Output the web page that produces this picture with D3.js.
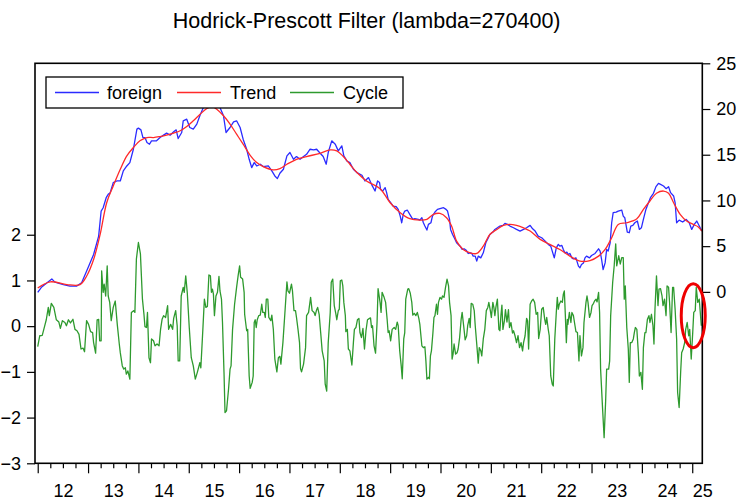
<!DOCTYPE html>
<html><head><meta charset="utf-8">
<script src="https://cdn.jsdelivr.net/npm/d3@7"></script>
<style>
body{margin:0;background:#fff}
svg{display:block}
text{font-family:"Liberation Sans",Arial,Helvetica,sans-serif;fill:#000}
</style>
</head><body>
<svg id="chart" width="739" height="502"></svg>
<script>
const titleText = "Hodrick-Prescott Filter (lambda=270400)";
const seriesNames = ["foreign", "Trend", "Cycle"];
const yearTicks = [2012,2013,2014,2015,2016,2017,2018,2019,2020,2021,2022,2023,2024,2025];
const yearLabels = ["12","13","14","15","16","17","18","19","20","21","22","23","24","25"];
const leftTicks = [-3,-2,-1,0,1,2];
const rightTicks = [0,5,10,15,20,25];

// [decimal year, value] — foreign (right axis)
const foreign = [[2012.00,-0.05],[2012.08,0.54],[2012.18,0.98],[2012.28,1.42],[2012.34,1.06],[2012.51,0.80],[2012.64,0.62],[2012.77,0.62],[2012.87,0.98],[2012.97,2.26],[2013.11,4.09],[2013.21,6.10],[2013.26,8.84],[2013.30,9.20],[2013.36,10.30],[2013.40,10.67],[2013.44,10.85],[2013.50,11.95],[2013.57,12.13],[2013.64,12.13],[2013.70,13.23],[2013.77,13.77],[2013.83,14.14],[2013.90,15.60],[2013.97,17.80],[2014.00,17.91],[2014.05,17.72],[2014.09,16.88],[2014.13,16.88],[2014.17,16.33],[2014.22,16.15],[2014.26,16.52],[2014.36,16.52],[2014.43,16.88],[2014.50,17.14],[2014.56,17.36],[2014.63,17.14],[2014.70,17.51],[2014.75,17.72],[2014.79,16.77],[2014.86,17.43],[2014.89,18.71],[2014.96,18.89],[2015.02,17.98],[2015.09,17.80],[2015.16,18.35],[2015.22,19.26],[2015.29,20.17],[2015.36,20.90],[2015.46,21.00],[2015.55,20.50],[2015.62,20.17],[2015.69,19.26],[2015.74,17.43],[2015.82,17.98],[2015.89,18.60],[2015.95,18.71],[2016.02,17.98],[2016.08,16.70],[2016.15,15.60],[2016.20,14.50],[2016.25,13.59],[2016.30,14.14],[2016.35,13.77],[2016.42,13.96],[2016.48,13.70],[2016.58,13.77],[2016.65,13.23],[2016.71,12.68],[2016.76,12.39],[2016.81,12.97],[2016.88,13.41],[2016.95,14.87],[2017.01,15.24],[2017.08,14.50],[2017.14,14.80],[2017.21,14.50],[2017.28,14.80],[2017.34,15.05],[2017.41,15.60],[2017.48,15.53],[2017.54,15.60],[2017.61,15.16],[2017.67,14.80],[2017.73,13.96],[2017.77,15.24],[2017.84,16.52],[2017.91,16.15],[2017.97,15.42],[2018.04,15.97],[2018.08,14.87],[2018.14,14.32],[2018.20,14.14],[2018.27,13.41],[2018.34,13.05],[2018.44,12.75],[2018.50,12.13],[2018.57,12.50],[2018.63,11.76],[2018.70,11.03],[2018.75,12.13],[2018.79,11.95],[2018.81,11.21],[2018.85,11.03],[2018.90,11.40],[2018.93,10.85],[2018.96,10.12],[2019.01,9.75],[2019.06,9.39],[2019.12,9.32],[2019.16,9.02],[2019.20,8.29],[2019.23,7.56],[2019.26,8.48],[2019.29,8.84],[2019.34,8.95],[2019.39,8.48],[2019.45,7.93],[2019.49,8.00],[2019.56,7.93],[2019.59,7.85],[2019.63,8.11],[2019.66,7.56],[2019.69,7.20],[2019.73,6.76],[2019.76,7.38],[2019.81,7.56],[2019.84,8.29],[2019.89,8.73],[2019.94,9.02],[2019.99,9.10],[2020.06,9.21],[2020.11,9.02],[2020.14,8.84],[2020.18,7.93],[2020.20,6.83],[2020.24,6.28],[2020.29,5.73],[2020.32,5.37],[2020.39,5.00],[2020.43,4.64],[2020.47,4.71],[2020.51,4.56],[2020.55,4.20],[2020.59,4.27],[2020.62,4.20],[2020.65,3.91],[2020.69,3.91],[2020.72,3.36],[2020.75,3.91],[2020.80,3.72],[2020.85,4.27],[2020.90,5.37],[2020.95,5.92],[2020.98,6.28],[2021.04,6.54],[2021.08,6.83],[2021.13,7.01],[2021.18,7.20],[2021.24,7.27],[2021.28,7.49],[2021.33,7.38],[2021.38,7.20],[2021.45,7.01],[2021.51,6.83],[2021.58,6.65],[2021.65,6.83],[2021.71,7.01],[2021.78,7.27],[2021.83,6.90],[2021.88,6.65],[2021.94,6.10],[2022.01,5.92],[2022.08,5.55],[2022.14,5.19],[2022.19,5.00],[2022.23,4.27],[2022.26,3.72],[2022.30,4.82],[2022.34,5.19],[2022.37,5.00],[2022.41,5.08],[2022.44,4.64],[2022.47,4.27],[2022.51,4.35],[2022.54,4.09],[2022.57,4.20],[2022.61,3.72],[2022.64,3.61],[2022.69,3.72],[2022.74,2.81],[2022.77,2.63],[2022.80,2.99],[2022.84,3.17],[2022.87,3.72],[2022.90,3.91],[2022.96,3.72],[2023.00,3.98],[2023.07,4.20],[2023.14,4.71],[2023.17,4.46],[2023.20,3.54],[2023.23,2.44],[2023.27,3.17],[2023.30,4.64],[2023.33,4.46],[2023.37,5.37],[2023.40,7.56],[2023.43,8.66],[2023.49,8.73],[2023.53,8.84],[2023.60,8.95],[2023.63,8.29],[2023.66,8.11],[2023.71,6.54],[2023.75,6.47],[2023.78,7.20],[2023.82,7.27],[2023.86,7.56],[2023.91,7.75],[2023.95,6.83],[2023.99,7.01],[2024.03,7.93],[2024.08,9.02],[2024.13,9.75],[2024.17,10.30],[2024.23,10.78],[2024.28,11.51],[2024.33,11.87],[2024.37,11.76],[2024.43,11.58],[2024.48,11.29],[2024.53,11.51],[2024.57,10.85],[2024.63,10.49],[2024.66,9.75],[2024.69,7.56],[2024.74,7.85],[2024.81,7.64],[2024.88,7.93],[2024.94,7.56],[2024.99,6.83],[2025.04,7.38],[2025.09,7.75],[2025.14,7.20],[2025.19,6.65]];

// [decimal year, value] — HP trend (right axis)
const trend = [[2012.00,0.43],[2012.25,1.10],[2012.58,0.80],[2012.84,0.80],[2012.97,1.71],[2013.11,3.54],[2013.24,6.28],[2013.37,9.75],[2013.50,11.58],[2013.64,13.41],[2013.77,14.87],[2013.90,15.79],[2014.03,16.52],[2014.17,16.88],[2014.30,16.88],[2014.43,16.99],[2014.56,17.14],[2014.70,17.36],[2014.83,17.62],[2014.96,18.09],[2015.09,18.71],[2015.23,19.45],[2015.36,20.06],[2015.46,20.30],[2015.55,19.99],[2015.69,19.26],[2015.82,18.35],[2015.95,17.25],[2016.08,16.15],[2016.22,14.94],[2016.35,14.14],[2016.48,13.70],[2016.68,13.34],[2016.81,13.48],[2016.95,13.96],[2017.14,14.50],[2017.34,14.80],[2017.61,15.16],[2017.81,15.53],[2017.94,15.42],[2018.07,14.80],[2018.20,13.96],[2018.34,13.05],[2018.53,12.13],[2018.80,11.29],[2019.00,9.75],[2019.20,8.66],[2019.39,8.00],[2019.59,7.85],[2019.73,7.93],[2019.86,8.48],[2019.99,8.58],[2020.12,8.11],[2020.22,7.20],[2020.32,5.55],[2020.45,4.64],[2020.59,4.27],[2020.72,4.20],[2020.85,5.00],[2020.98,6.28],[2021.12,6.83],[2021.25,7.27],[2021.38,7.38],[2021.51,7.27],[2021.65,7.01],[2021.78,6.65],[2021.98,5.74],[2022.17,5.20],[2022.37,4.64],[2022.57,3.91],[2022.77,3.36],[2022.97,3.43],[2023.14,3.91],[2023.27,4.64],[2023.40,5.92],[2023.53,7.38],[2023.70,7.56],[2023.90,8.00],[2024.03,9.02],[2024.16,9.94],[2024.29,10.78],[2024.43,11.03],[2024.53,10.78],[2024.63,9.75],[2024.76,8.48],[2024.89,7.75],[2025.02,7.38],[2025.12,7.10],[2025.19,6.65]];

// [decimal year, value] — cycle (left axis)
const cycle = [[2012.00,-0.45],[2012.04,-0.21],[2012.09,-0.20],[2012.14,0.01],[2012.17,0.14],[2012.21,0.41],[2012.23,0.23],[2012.27,0.50],[2012.32,0.41],[2012.37,0.14],[2012.42,0.09],[2012.45,-0.05],[2012.49,0.12],[2012.54,0.08],[2012.57,0.01],[2012.61,0.14],[2012.65,0.07],[2012.70,0.15],[2012.74,-0.07],[2012.78,-0.10],[2012.82,-0.18],[2012.86,-0.50],[2012.90,-0.48],[2012.93,-0.56],[2012.97,0.12],[2013.01,0.04],[2013.05,-0.12],[2013.09,-0.14],[2013.11,-0.36],[2013.15,-0.59],[2013.18,0.14],[2013.21,0.15],[2013.23,-0.32],[2013.26,-0.32],[2013.27,1.21],[2013.30,0.74],[2013.32,0.92],[2013.35,0.66],[2013.38,1.32],[2013.40,0.66],[2013.43,0.52],[2013.46,0.12],[2013.50,0.41],[2013.54,0.55],[2013.58,0.04],[2013.62,-0.39],[2013.64,-0.58],[2013.68,-0.87],[2013.71,-0.94],[2013.74,-0.91],[2013.76,-1.05],[2013.79,-0.98],[2013.83,-1.16],[2013.86,0.30],[2013.91,0.34],[2013.93,0.30],[2013.96,1.47],[2014.00,1.83],[2014.04,1.58],[2014.08,0.59],[2014.11,0.26],[2014.13,-0.01],[2014.16,-0.03],[2014.18,0.30],[2014.21,-0.69],[2014.24,-0.80],[2014.26,-0.28],[2014.30,-0.32],[2014.33,-0.43],[2014.37,-0.39],[2014.41,-0.43],[2014.44,-0.07],[2014.47,0.15],[2014.50,0.23],[2014.54,0.19],[2014.58,0.45],[2014.60,-0.07],[2014.64,0.04],[2014.68,-0.07],[2014.70,0.17],[2014.74,0.34],[2014.77,0.01],[2014.79,-0.76],[2014.82,-0.76],[2014.85,0.66],[2014.89,0.85],[2014.91,0.74],[2014.94,1.10],[2014.97,0.74],[2015.01,-0.03],[2015.05,-0.69],[2015.09,-0.87],[2015.13,-1.16],[2015.17,-1.01],[2015.22,-0.80],[2015.24,-0.91],[2015.28,-0.07],[2015.31,0.59],[2015.34,0.41],[2015.37,0.43],[2015.40,1.12],[2015.43,1.10],[2015.45,0.74],[2015.47,0.81],[2015.49,0.70],[2015.51,0.23],[2015.54,0.66],[2015.57,0.74],[2015.60,1.09],[2015.62,0.77],[2015.65,0.59],[2015.67,0.08],[2015.70,-1.01],[2015.72,-1.89],[2015.75,-1.85],[2015.79,-1.38],[2015.82,-0.94],[2015.84,-0.87],[2015.87,-0.07],[2015.91,0.48],[2015.95,0.85],[2015.98,1.10],[2016.01,1.32],[2016.03,1.07],[2016.07,1.03],[2016.10,0.74],[2016.11,0.26],[2016.15,-0.10],[2016.17,-0.07],[2016.20,-1.09],[2016.22,-1.36],[2016.26,-1.23],[2016.28,-1.09],[2016.30,0.08],[2016.32,0.14],[2016.34,-0.03],[2016.36,0.14],[2016.39,0.23],[2016.42,0.24],[2016.45,0.48],[2016.47,0.30],[2016.50,0.30],[2016.52,0.19],[2016.54,0.59],[2016.57,0.59],[2016.59,0.19],[2016.63,0.12],[2016.65,0.24],[2016.68,-0.07],[2016.71,-0.72],[2016.75,-1.00],[2016.78,-0.69],[2016.81,-0.66],[2016.83,-0.83],[2016.87,-0.36],[2016.91,0.30],[2016.95,0.97],[2016.97,0.77],[2017.00,0.72],[2017.04,0.92],[2017.06,0.77],[2017.09,0.34],[2017.12,0.34],[2017.14,0.19],[2017.17,-0.07],[2017.20,-0.36],[2017.22,-0.93],[2017.24,-1.00],[2017.28,-0.83],[2017.32,-0.47],[2017.34,0.23],[2017.38,0.30],[2017.42,0.63],[2017.45,0.34],[2017.49,0.30],[2017.51,0.23],[2017.54,0.36],[2017.56,0.41],[2017.59,0.26],[2017.62,-0.14],[2017.65,-0.54],[2017.69,-0.76],[2017.71,-1.27],[2017.74,-1.42],[2017.77,-0.36],[2017.81,0.30],[2017.83,0.96],[2017.86,1.03],[2017.89,0.45],[2017.92,0.28],[2017.94,0.14],[2017.97,0.34],[2017.99,0.37],[2018.01,0.99],[2018.04,1.01],[2018.06,0.88],[2018.08,0.52],[2018.11,0.23],[2018.12,-0.12],[2018.15,-0.07],[2018.17,-0.50],[2018.20,-0.54],[2018.24,-0.85],[2018.27,-0.36],[2018.29,-0.07],[2018.32,-0.03],[2018.35,0.14],[2018.38,0.17],[2018.40,-0.14],[2018.43,-0.25],[2018.46,-0.05],[2018.49,-0.50],[2018.52,-0.10],[2018.55,0.14],[2018.59,0.17],[2018.61,0.18],[2018.63,-0.03],[2018.65,0.01],[2018.68,-0.43],[2018.71,-0.59],[2018.74,0.08],[2018.76,0.82],[2018.80,0.52],[2018.82,0.30],[2018.84,0.74],[2018.88,0.63],[2018.91,0.52],[2018.94,0.15],[2018.96,-0.14],[2018.98,-0.10],[2019.01,-0.32],[2019.04,-0.07],[2019.08,-0.03],[2019.11,-0.07],[2019.14,0.09],[2019.16,0.01],[2019.19,-0.54],[2019.22,-0.87],[2019.24,-1.15],[2019.27,-0.28],[2019.29,-0.14],[2019.31,0.59],[2019.35,0.81],[2019.37,0.82],[2019.40,0.72],[2019.43,0.52],[2019.45,0.24],[2019.48,0.28],[2019.51,0.23],[2019.54,0.30],[2019.57,0.17],[2019.59,0.04],[2019.63,-0.43],[2019.66,-0.47],[2019.69,-0.45],[2019.71,-0.76],[2019.73,-1.16],[2019.76,-1.12],[2019.78,-1.15],[2019.80,-0.65],[2019.82,-0.54],[2019.85,-0.14],[2019.87,0.19],[2019.89,0.23],[2019.92,0.48],[2019.94,0.26],[2019.96,0.52],[2019.99,0.63],[2020.02,0.59],[2020.04,0.66],[2020.07,0.63],[2020.10,0.85],[2020.13,1.03],[2020.16,0.88],[2020.18,0.52],[2020.21,0.23],[2020.23,-0.72],[2020.25,-0.61],[2020.27,-0.39],[2020.30,-0.61],[2020.33,-0.58],[2020.35,-0.50],[2020.38,-0.25],[2020.41,0.15],[2020.43,0.30],[2020.46,0.01],[2020.49,-0.30],[2020.52,-0.21],[2020.54,0.01],[2020.57,0.17],[2020.59,-0.03],[2020.61,0.50],[2020.64,0.48],[2020.67,0.34],[2020.69,0.01],[2020.72,-0.39],[2020.75,-0.81],[2020.77,-0.47],[2020.80,-0.54],[2020.82,-0.65],[2020.85,-0.28],[2020.88,-0.07],[2020.91,0.34],[2020.94,0.41],[2020.96,0.52],[2020.99,0.34],[2021.01,0.19],[2021.04,0.52],[2021.06,0.41],[2021.08,0.23],[2021.10,0.41],[2021.13,0.59],[2021.16,-0.07],[2021.18,-0.10],[2021.20,0.23],[2021.22,0.46],[2021.24,-0.07],[2021.27,0.12],[2021.29,0.36],[2021.32,0.09],[2021.35,0.36],[2021.37,-0.03],[2021.40,0.08],[2021.43,-0.15],[2021.45,-0.10],[2021.48,-0.21],[2021.51,-0.36],[2021.54,-0.21],[2021.57,-0.47],[2021.60,-0.36],[2021.63,-0.54],[2021.65,-0.36],[2021.68,-0.21],[2021.71,0.17],[2021.73,0.12],[2021.75,-0.50],[2021.78,0.48],[2021.81,0.55],[2021.84,0.59],[2021.87,0.52],[2021.90,0.26],[2021.93,0.30],[2021.95,-0.27],[2021.98,-0.07],[2022.01,0.37],[2022.04,0.41],[2022.07,0.15],[2022.09,0.04],[2022.11,0.19],[2022.14,-0.07],[2022.16,-0.21],[2022.19,-1.09],[2022.22,-1.27],[2022.24,-1.31],[2022.27,-0.28],[2022.30,0.30],[2022.32,0.63],[2022.34,0.37],[2022.36,0.48],[2022.39,0.55],[2022.42,0.52],[2022.44,0.70],[2022.46,0.77],[2022.48,0.23],[2022.50,-0.36],[2022.52,0.15],[2022.53,0.04],[2022.56,0.30],[2022.59,0.08],[2022.61,0.30],[2022.64,0.23],[2022.67,0.02],[2022.69,-0.12],[2022.72,-0.14],[2022.75,-0.76],[2022.77,-0.21],[2022.80,-0.65],[2022.83,-0.47],[2022.85,0.08],[2022.89,0.52],[2022.91,0.66],[2022.93,0.52],[2022.96,0.19],[2022.99,0.30],[2023.01,0.45],[2023.04,0.50],[2023.06,0.55],[2023.09,0.59],[2023.11,0.53],[2023.14,0.74],[2023.16,0.30],[2023.18,-0.94],[2023.22,-1.82],[2023.25,-2.44],[2023.28,-1.64],[2023.30,-0.94],[2023.34,-0.94],[2023.36,-0.76],[2023.38,0.23],[2023.42,0.96],[2023.45,1.32],[2023.48,1.80],[2023.50,1.32],[2023.52,1.43],[2023.54,1.54],[2023.57,1.36],[2023.60,1.50],[2023.63,1.50],[2023.65,0.59],[2023.67,0.88],[2023.70,-0.03],[2023.73,-0.50],[2023.75,-1.23],[2023.77,-0.36],[2023.80,-0.36],[2023.83,-0.28],[2023.85,-0.14],[2023.87,-0.03],[2023.90,-0.07],[2023.93,-0.58],[2023.95,-1.09],[2023.98,-1.01],[2024.01,-1.38],[2024.03,-0.47],[2024.06,-0.14],[2024.08,-0.14],[2024.11,0.15],[2024.14,0.23],[2024.16,0.08],[2024.19,0.26],[2024.22,0.01],[2024.24,-0.39],[2024.26,0.37],[2024.29,1.10],[2024.32,0.45],[2024.34,0.81],[2024.37,0.82],[2024.40,0.66],[2024.42,0.45],[2024.45,0.59],[2024.48,0.23],[2024.50,0.88],[2024.53,0.85],[2024.55,0.52],[2024.58,-0.14],[2024.61,0.85],[2024.63,0.85],[2024.66,0.37],[2024.69,-0.28],[2024.71,-1.45],[2024.74,-1.78],[2024.77,-1.01],[2024.79,-0.58],[2024.82,-0.50],[2024.85,-0.36],[2024.87,-0.07],[2024.90,0.08],[2024.93,-0.21],[2024.95,-0.07],[2024.98,-0.72],[2025.01,-0.14],[2025.03,0.30],[2025.06,0.34],[2025.08,0.85],[2025.11,0.52],[2025.14,0.59],[2025.16,0.30],[2025.18,0.01]];

// annotation ellipse location (data units)
const markYear = 2025.02, markCycle = 0.23;

const colors = {foreign: "#2b2bff", Trend: "#ff2a2a", Cycle: "#2e9a2e"};
const L = 35, R = 702.3, T = 63.3, B = 463.3;
const xDomain = [2011.946, 2025.2];

const svg = d3.select("#chart");
const x = d3.scaleLinear().domain(xDomain).range([L, R]);
const yL = d3.scaleLinear().domain([-3, 5.75]).range([B, T]);
const yR = d3.scaleLinear().domain([-18.75, 25]).range([B, T]);

svg.append("defs").append("clipPath").attr("id", "clip")
  .append("rect").attr("x", L).attr("y", T).attr("width", R - L).attr("height", B - T);

// title
svg.append("text").attr("x", (L + R) / 2 - 2).attr("y", 28).attr("text-anchor", "middle")
  .style("font-size", "21.5px").text(titleText);

const plot = svg.append("g").attr("clip-path", "url(#clip)");
const lineL = d3.line().x(d => x(d[0])).y(d => yL(d[1]));
const lineR = d3.line().x(d => x(d[0])).y(d => yR(d[1]));
const lineT = d3.line().x(d => x(d[0])).y(d => yR(d[1])).curve(d3.curveCatmullRom.alpha(0.5));

plot.append("path").datum(cycle).attr("d", lineL).attr("fill", "none")
  .attr("stroke", colors.Cycle).attr("stroke-width", 1.3).attr("stroke-linejoin", "round");
plot.append("path").datum(foreign).attr("d", lineR).attr("fill", "none")
  .attr("stroke", colors.foreign).attr("stroke-width", 1.3).attr("stroke-linejoin", "round");
plot.append("path").datum(trend).attr("d", lineT).attr("fill", "none")
  .attr("stroke", colors.Trend).attr("stroke-width", 1.3);

// axes
const fs = "18px";
const axL = svg.append("g").attr("transform", `translate(${L},0)`)
  .call(d3.axisLeft(yL).tickValues(leftTicks).tickSize(8).tickPadding(6).tickFormat(d3.format("d")));
const axR = svg.append("g").attr("transform", `translate(${R},0)`)
  .call(d3.axisRight(yR).tickValues(rightTicks).tickSize(8).tickPadding(6).tickFormat(d3.format("d")));
const minorTicks = [];
yearTicks.forEach(yr => { [0.25, 0.5, 0.75].forEach(q => { if (yr + q < xDomain[1]) minorTicks.push(yr + q); }); });
const axBminor = svg.append("g").attr("transform", `translate(0,${B})`)
  .call(d3.axisBottom(x).tickValues(minorTicks).tickSize(5).tickFormat(""));
const axBmajor = svg.append("g").attr("transform", `translate(0,${B})`)
  .call(d3.axisBottom(x).tickValues(yearTicks).tickSize(10).tickFormat(""));
const labelPos = yearTicks.map(yr => Math.min(yr + 0.5, xDomain[1]));
const axBlab = svg.append("g").attr("transform", `translate(0,${B})`)
  .call(d3.axisBottom(x).tickValues(labelPos).tickSize(0).tickPadding(21)
    .tickFormat((d, i) => yearLabels[i]));
axBlab.selectAll(".tick line").remove();
[axL, axR, axBminor, axBmajor, axBlab].forEach(g => {
  g.select(".domain").remove();
  g.selectAll("text").attr("font-family", null).style("font-size", fs).attr("fill", "#000");
  g.selectAll(".tick line").attr("stroke", "#000").attr("stroke-width", 1.2);
});
axBlab.selectAll("text").attr("dy", "0.71em");

// frame
svg.append("rect").attr("x", L).attr("y", T).attr("width", R - L).attr("height", B - T)
  .attr("fill", "none").attr("stroke", "#000").attr("stroke-width", 1.6);

// legend
const lg = svg.append("g");
lg.append("rect").attr("x", 46).attr("y", 77).attr("width", 357).attr("height", 31)
  .attr("fill", "#fff").attr("stroke", "#000").attr("stroke-width", 1.3);
const legendItems = [
  {name: seriesNames[0], x0: 55, tx: 107},
  {name: seriesNames[1], x0: 177, tx: 230},
  {name: seriesNames[2], x0: 290, tx: 343}
];
legendItems.forEach(it => {
  lg.append("line").attr("x1", it.x0).attr("x2", it.x0 + 44).attr("y1", 92.5).attr("y2", 92.5)
    .attr("stroke", colors[it.name]).attr("stroke-width", 1.6);
  lg.append("text").attr("x", it.tx).attr("y", 99).style("font-size", fs).text(it.name);
});

// red annotation ellipse
svg.append("ellipse").attr("cx", x(markYear)).attr("cy", yL(markCycle))
  .attr("rx", 12).attr("ry", 32).attr("fill", "none").attr("stroke", "#ee0000").attr("stroke-width", 3);
</script>
</body></html>
